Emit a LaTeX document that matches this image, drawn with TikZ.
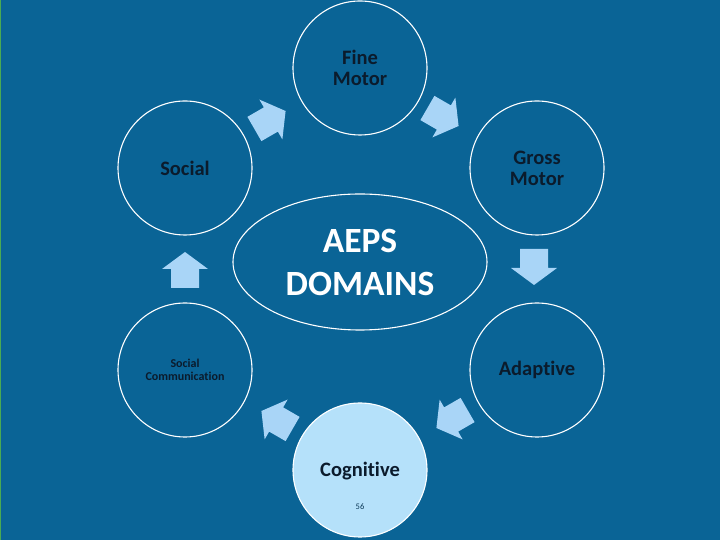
\documentclass[tikz,border=0pt]{standalone}
\usepackage{fontspec}
\setmainfont{Carlito}[Ligatures=NoCommon]
\usepackage{tikz}
\usetikzlibrary{shapes.geometric}

\definecolor{slidebg}{HTML}{0A6496}
\definecolor{arrowfill}{HTML}{A9D5F7}
\definecolor{cogfill}{HTML}{B5E1FA}
\definecolor{textdark}{HTML}{0B1B2C}

\tikzset{
  domainbubble/.style={circle, draw=white, line width=1.1pt, fill=slidebg, minimum size=134pt,
    inner sep=0pt, align=center, text=textdark, font=\fontsize{20.5}{21}\selectfont\bfseries},
  centrebubble/.style={ellipse, draw=white, line width=1.1pt, minimum width=254pt, minimum height=136pt,
    inner sep=0pt, align=center, text=white, font=\fontsize{35.5}{43}\selectfont\bfseries},
}

\begin{document}
\begin{tikzpicture}[x=1pt, y=1pt]
                \fill[slidebg] (0,0) rectangle (720,540);
                \useasboundingbox (0,0) rectangle (720,540);
                \draw[green!40!yellow!45!slidebg, line width=0.8pt] (0.4,0) -- (0.4,540);

                % the six domains round the centre
                \node[domainbubble] (fine) at (360,472) {Fine\\Motor};
                \node[domainbubble] (gross) at (537,372) {Gross\\Motor};
                \node[domainbubble] (adaptive) at (537,170) {Adaptive};
                \node[domainbubble, fill=cogfill] (cognitive) at (360,70) {};
                \node[domainbubble, font=\fontsize{12}{13}\selectfont\bfseries] (socialcomm) at (185,170) {Social\\Communication};
                \node[domainbubble] (social) at (185,372) {Social};

                \node[text=textdark, font=\fontsize{20.5}{21}\selectfont\bfseries] (coglabel) at (360,69) {Cognitive};
                \node[text=textdark!60!slidebg, font=\fontsize{8.5}{9}\selectfont] (pagenum) at (360,33) {56};

                \node[centrebubble] (aeps) at (360,278) {AEPS\\DOMAINS};

                % block arrows, clockwise
                \foreach \ax/\ay/\ang in {270/420/30, 443/423/-30, 534/273/-90, 452/121/-150, 277/120/150, 185/270/90}
                    \fill[arrowfill, shift={(\ax,\ay)}, rotate=\ang]
                        (18,0) -- (1,23) -- (1,14) -- (-18,14) -- (-18,-14) -- (1,-14) -- (1,-23) -- cycle;
            \end{tikzpicture}
\end{document}
